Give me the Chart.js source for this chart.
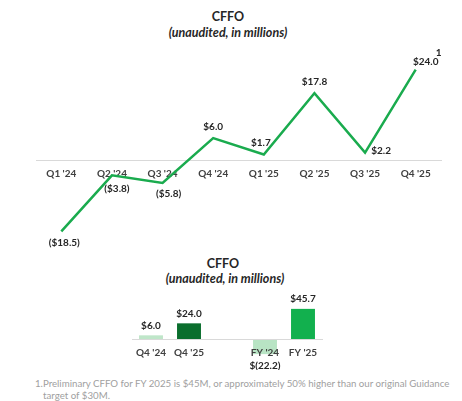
<!DOCTYPE html>
<html>
<head>
<meta charset="utf-8">
<script src="https://cdn.jsdelivr.net/npm/chart.js@4.4.1/dist/chart.umd.min.js"></script>
<style>
    body { margin: 0; background: #fff; width: 462px; height: 401px; overflow: hidden; position: relative; font-family: Lato, 'Open Sans', sans-serif; }
    .title { position: absolute; left: 0; width: 456px; text-align: center; font-weight: bold; font-size: 12.5px; color: #262626; }
    .sub { font-style: italic; }
    canvas { position: absolute; left: 0; }
    #note { position: absolute; left: 35px; top: 377px; width: 420px; font-size: 9.7px; line-height: 12px; color: #a0a0a0; padding-left: 8px; text-indent: -8px; }
</style>
</head>
<body>
<div class="title" style="top:9px">CFFO</div>
<div class="title sub" style="top:25px">(unaudited, in millions)</div>
<div class="title" style="top:256px;left:-5px">CFFO</div>
<div class="title sub" style="top:271px;left:-3px">(unaudited, in millions)</div>
<div style="position:relative">
    <canvas id="lineChart" width="462" height="260" style="top:0"></canvas>
    <canvas id="barChart" width="462" height="80" style="top:290px"></canvas>
</div>
<div id="note">1.Preliminary CFFO for FY 2025 is $45M, or approximately 50% higher than our original Guidance target of $30M.</div>

<script>
// Quarterly CFFO data
const quarters = ["Q1 '24", "Q2 '24", "Q3 '24", "Q4 '24", "Q1 '25", "Q2 '25", "Q3 '25", "Q4 '25"];
const quarterValues = [-18.5, -3.8, -5.8, 6.0, 1.7, 17.8, 2.2, 24.0];
const quarterText = ['($18.5)', '($3.8)', '($5.8)', '$6.0', '$1.7', '$17.8', '$2.2', '$24.0'];

// Comparison bars (blank slot splits quarter from full year)
const periods = ["Q4 '24", "Q4 '25", '', "FY '24", "FY '25"];
const periodValues = [6.0, 24.0, null, -22.2, 45.7];
const periodText = ['$6.0', '$24.0', '', '$(22.2)', '$45.7'];

// label offsets from the points (px)
const lineLabelDx = [3, 5, 6, 0, -3, 0, 16, 10];
const lineLabelDy = [11, 13, 11, -11, -12, -11, -2, -8];

const GREEN = '#1aab4e';
const FONT = "Lato, 'Open Sans', sans-serif";
const TEXT = '#262626';

Chart.defaults.font.family = FONT;
Chart.defaults.animation = false;

const lineLabels = {
    id: 'lineLabels',
    afterDatasetsDraw(chart) {
        const ctx = chart.ctx;
        const pts = chart.getDatasetMeta(0).data;
        ctx.save();
        ctx.font = 'bold 10px ' + FONT;
        ctx.fillStyle = TEXT;
        ctx.textAlign = 'center';
        ctx.textBaseline = 'middle';
        pts.forEach((p, i) => {
            ctx.fillText(quarterText[i], p.x + lineLabelDx[i], p.y + lineLabelDy[i]);
        });
        // footnote marker on the last point
        const last = pts[pts.length - 1];
        ctx.fillText('1', last.x + 23, last.y - 17);
        ctx.restore();
    }
};

new Chart(document.getElementById('lineChart'), {
    type: 'line',
    data: {
        labels: quarters,
        datasets: [{
            data: quarterValues,
            borderColor: GREEN,
            borderWidth: 2.5,
            pointRadius: 0,
            tension: 0,
            fill: false
        }]
    },
    options: {
        responsive: false,
        layout: { padding: { left: 36, right: 21, top: 62, bottom: 23 } },
        plugins: { legend: { display: false }, tooltip: { enabled: false } },
        scales: {
            y: { display: false, min: -20, max: 26 },
            x: {
                position: { y: 0 },
                offset: true,
                grid: { display: false, drawTicks: false },
                border: { display: true, color: '#d9d9d9', width: 1 },
                ticks: { color: '#404040', padding: 7, font: { size: 10, weight: 'bold' }, maxRotation: 0, autoSkip: false }
            }
        }
    },
    plugins: [lineLabels]
});

const barLabels = {
    id: 'barLabels',
    afterDraw(chart) {
        const ctx = chart.ctx;
        const bars = chart.getDatasetMeta(0).data;
        ctx.save();
        ctx.font = 'bold 10px ' + FONT;
        ctx.fillStyle = TEXT;
        ctx.textAlign = 'center';
        ctx.textBaseline = 'middle';
        bars.forEach((b, i) => {
            const v = periodValues[i];
            if (v === null) return;
            const y = v >= 0 ? b.y - 10 : chart.scales.y.getPixelForValue(0) + 26;
            ctx.fillText(periodText[i], b.x, y);
        });
        ctx.restore();
    }
};

const barStops = [
    ['#bfe6c9', '#d9f0df'],
    ['#0a6e2d', '#1aa44b'],
    null,
    ['#b8e4c4', '#f4fbf6'],
    ['#12b04e', '#0aa845']
];

function barFill(context) {
    const chart = context.chart;
    const el = context.element;
    const stops = barStops[context.dataIndex];
    if (!stops) return GREEN;
    if (!el || !Number.isFinite(el.x) || !Number.isFinite(el.y) || !Number.isFinite(el.base)) return stops[0];
    const top = Math.min(el.y, el.base), bot = Math.max(el.y, el.base);
    const g = chart.ctx.createLinearGradient(el.x - 12, top, el.x + 12, bot);
    g.addColorStop(0, stops[0]);
    g.addColorStop(1, stops[1]);
    return g;
}

new Chart(document.getElementById('barChart'), {
    type: 'bar',
    data: {
        labels: periods,
        datasets: [{
            data: periodValues,
            backgroundColor: barFill,
            borderWidth: 0,
            categoryPercentage: 1,
            barPercentage: 0.63
        }]
    },
    options: {
        responsive: false,
        layout: { padding: { left: 132, right: 140, top: 16, bottom: 14 } },
        plugins: { legend: { display: false }, tooltip: { enabled: false } },
        scales: {
            y: { display: false, min: -25, max: 50 },
            x: {
                position: { y: 0 },
                grid: { display: false, drawTicks: false },
                border: { display: true, color: '#d9d9d9', width: 1, z: 1 },
                ticks: { z: 1, color: '#404040', padding: 7, font: { size: 10, weight: 'bold' }, maxRotation: 0, autoSkip: false }
            }
        }
    },
    plugins: [barLabels]
});
</script>
</body>
</html>
